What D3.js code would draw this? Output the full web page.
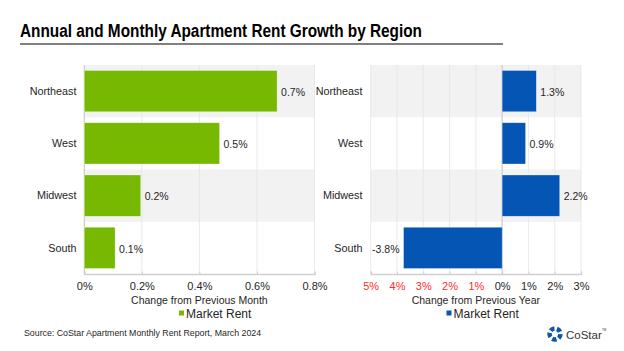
<!DOCTYPE html>
<html>
<head>
<meta charset="utf-8">
<script src="https://cdn.jsdelivr.net/npm/d3@7"></script>
<style>
  body { margin: 0; background: #fff; }
  text { font-family: "Liberation Sans", Arial, sans-serif; }
</style>
</head>
<body>
<svg id="chart" width="624" height="351"></svg>
<script>
// Data.
const regions = ["Northeast", "West", "Midwest", "South"];
const monthlyChange = [0.67, 0.47, 0.196, 0.107];
const monthlyLabels = ["0.7%", "0.5%", "0.2%", "0.1%"];
const annualChange = [1.3, 0.89, 2.19, -3.75];
const annualLabels = ["1.3%", "0.9%", "2.2%", "-3.8%"];
const monthlyTicks = [0, 0.2, 0.4, 0.6, 0.8];
const annualTicks = [-5, -4, -3, -2, -1, 0, 1, 2, 3];

const svg = d3.select("#chart");
const plotTop = 65, plotBottom = 274;

// Title and its rule.
svg.append("text")
  .attr("x", 20).attr("y", 37)
  .attr("font-size", "18px")
  .attr("font-weight", "bold")
  .attr("fill", "#000")
  .attr("textLength", 402)
  .attr("lengthAdjust", "spacingAndGlyphs")
  .text("Annual and Monthly Apartment Rent Growth by Region");
svg.append("line")
  .attr("x1", 20).attr("x2", 503)
  .attr("y1", 44).attr("y2", 44)
  .attr("stroke", "#808080").attr("stroke-width", 2);

// One panel: banded background, grid, bars, labels, axis and legend.
function drawPanel(opts) {
  const { values, labels, ticks, domain, xRange, color, labelX, title, legendX, tickFill, tickText } = opts;
  const g = svg.append("g");
  const x = d3.scaleLinear().domain(domain).range(xRange);
  const y = d3.scaleBand().domain(regions).range([plotTop, plotBottom]).paddingInner(0).paddingOuter(0);

  // Alternating grey bands.
  g.selectAll(".band")
    .data(regions.filter((d, i) => i % 2 === 0))
    .enter().append("rect")
    .attr("x", xRange[0])
    .attr("width", xRange[1] - xRange[0])
    .attr("y", d => y(d))
    .attr("height", y.bandwidth())
    .attr("fill", "#f2f2f2");

  // Vertical gridlines.
  g.selectAll(".grid")
    .data(ticks)
    .enter().append("line")
    .attr("x1", d => x(d)).attr("x2", d => x(d))
    .attr("y1", plotTop).attr("y2", plotBottom)
    .attr("stroke", "#e4e4e4").attr("stroke-width", 0.8);

  // Zero line.
  g.append("line")
    .attr("x1", x(0)).attr("x2", x(0))
    .attr("y1", plotTop).attr("y2", plotBottom)
    .attr("stroke", "#c8c8c8").attr("stroke-width", 1);

  // Bars.
  const inset = 5.5;
  g.selectAll(".bar")
    .data(values)
    .enter().append("rect")
    .attr("x", d => x(Math.min(0, d)))
    .attr("width", d => Math.abs(x(d) - x(0)))
    .attr("y", (d, i) => y(regions[i]) + inset)
    .attr("height", y.bandwidth() - 2 * inset)
    .attr("fill", color)
    .attr("stroke", "#ffffff").attr("stroke-opacity", 0.5).attr("stroke-width", 0.6);

  // Value labels.
  g.selectAll(".val")
    .data(values)
    .enter().append("text")
    .attr("x", d => d >= 0 ? x(d) + 4 : x(d) - 4)
    .attr("y", (d, i) => y(regions[i]) + y.bandwidth() / 2 + 1)
    .attr("dy", "0.35em")
    .attr("text-anchor", d => d >= 0 ? "start" : "end")
    .attr("font-size", "10.5px")
    .attr("fill", "#262626")
    .text((d, i) => labels[i]);

  // Category labels.
  g.selectAll(".cat")
    .data(regions)
    .enter().append("text")
    .attr("x", labelX)
    .attr("y", d => y(d) + y.bandwidth() / 2)
    .attr("dy", "0.35em")
    .attr("text-anchor", "end")
    .attr("font-size", "10.8px")
    .attr("fill", "#262626")
    .text(d => d);

  // Bottom axis.
  const axis = d3.axisBottom(x).tickValues(ticks).tickSize(-2.5).tickPadding(8).tickFormat(tickText);
  const ax = g.append("g")
    .attr("transform", `translate(0,${plotBottom})`)
    .call(axis);
  ax.select(".domain").attr("stroke", "#d0d0d0").attr("stroke-width", 1.3);
  ax.selectAll(".tick line").attr("stroke", "#d0d0d0");
  ax.selectAll(".tick text")
    .attr("font-size", "11px")
    .attr("font-family", "Liberation Sans, Arial, sans-serif")
    .attr("fill", tickFill);

  // Axis title.
  g.append("text")
    .attr("x", (xRange[0] + xRange[1]) / 2)
    .attr("y", 304)
    .attr("text-anchor", "middle")
    .attr("font-size", "10.5px")
    .attr("fill", "#262626")
    .text(title);

  // Legend.
  g.append("rect")
    .attr("x", legendX).attr("y", 310.5)
    .attr("width", 5).attr("height", 5)
    .attr("fill", color);
  g.append("text")
    .attr("x", legendX + 7).attr("y", 317.5)
    .attr("font-size", "12px")
    .attr("fill", "#262626")
    .text("Market Rent");
}

drawPanel({
  values: monthlyChange,
  labels: monthlyLabels,
  ticks: monthlyTicks,
  domain: [0, 0.8],
  xRange: [84.3, 314.5],
  color: "#76b900",
  labelX: 76.5,
  title: "Change from Previous Month",
  legendX: 179,
  tickFill: () => "#262626",
  tickText: d => (d === 0 ? "0" : d3.format(".1f")(d)) + "%"
});

drawPanel({
  values: annualChange,
  labels: annualLabels,
  ticks: annualTicks,
  domain: [-5, 3],
  xRange: [370.7, 581],
  color: "#0455b4",
  labelX: 362.5,
  title: "Change from Previous Year",
  legendX: 446.5,
  tickFill: d => d < 0 ? "#ff2b2b" : "#262626",
  tickText: d => Math.abs(d) + "%"
});

// Source note.
svg.append("text")
  .attr("x", 24).attr("y", 336)
  .attr("font-size", "8.8px")
  .attr("fill", "#262626")
  .text("Source: CoStar Apartment Monthly Rent Report, March 2024");

// CoStar logo: a ring of five blue segments next to the word mark.
const logo = svg.append("g").attr("transform", "translate(555,334)");
const seg = d3.arc().innerRadius(3.2).outerRadius(7.8);
d3.range(5).forEach(i => {
  const a0 = i * 2 * Math.PI / 5 + 0.35;
  logo.append("path")
    .attr("d", seg({ startAngle: a0, endAngle: a0 + 2 * Math.PI / 5 - 0.45 }))
    .attr("fill", "#0e58a8");
});
svg.append("text")
  .attr("x", 566).attr("y", 338.5)
  .attr("font-family", "Liberation Serif, DejaVu Serif, serif")
  .attr("font-size", "11.5px")
  .attr("fill", "#333")
  .text("CoStar");
svg.append("text")
  .attr("x", 602).attr("y", 331)
  .attr("font-size", "3px")
  .attr("fill", "#333")
  .text("TM");
</script>
</body>
</html>
